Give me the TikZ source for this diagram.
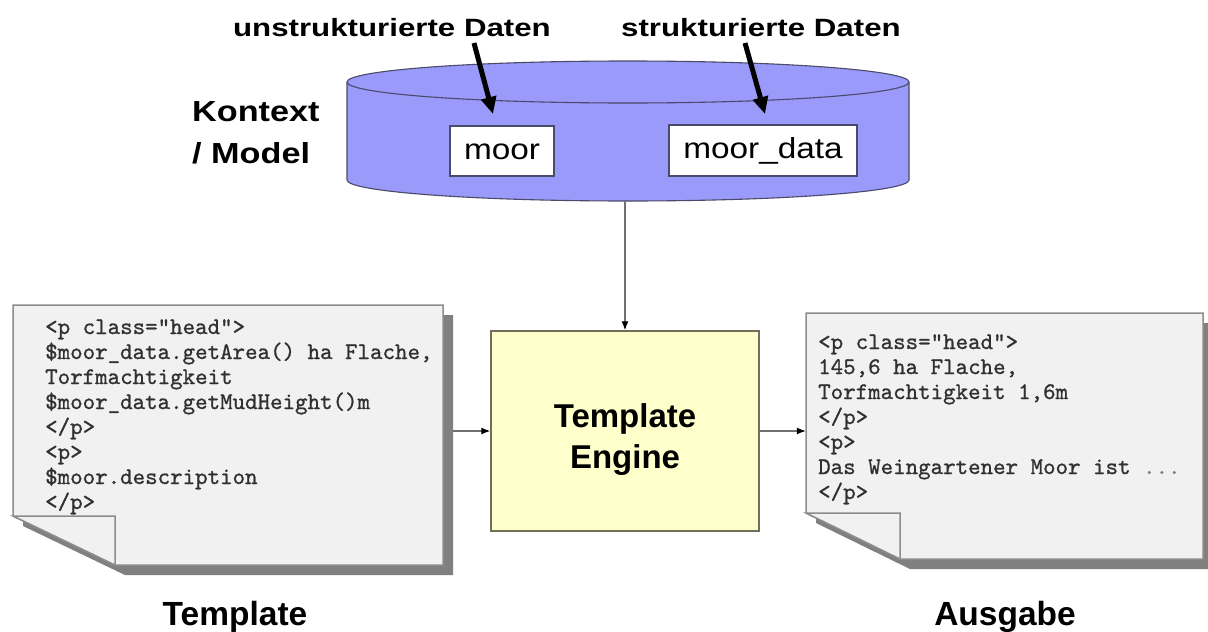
\documentclass[tikz,border=0pt]{standalone}
\usepackage{fontspec}
\setmainfont{Liberation Sans}
\newfontfamily\lblf[FakeStretch=1.25]{Liberation Sans}
\newfontfamily\boxf[FakeStretch=1.15]{Liberation Sans}
\newfontfamily\kf[FakeStretch=1.18]{Liberation Sans}
\newfontfamily\monof[FakeBold=0.9]{lmmono10-regular.otf}
\usetikzlibrary{arrows.meta}
\definecolor{cylfill}{HTML}{9A9AFA}
\definecolor{cylline}{HTML}{4A4A6A}
\definecolor{engfill}{HTML}{FFFFCC}
\definecolor{engline}{HTML}{70705A}
\definecolor{pagefill}{HTML}{F1F1F1}
\definecolor{pageline}{HTML}{8C8C8C}
\definecolor{shadowc}{HTML}{808080}
\definecolor{connline}{HTML}{707070}
\definecolor{monotext}{HTML}{303030}
\begin{document}
\begin{tikzpicture}[x=1pt,y=-1pt,
  toplbl/.style={font=\lblf\bfseries\fontsize{25}{30}\selectfont, inner sep=0, anchor=base},
  ctxlbl/.style={font=\kf\bfseries\fontsize{29}{34}\selectfont, inner sep=0, anchor=base west},
  biglbl/.style={font=\bfseries\fontsize{33.5}{40}\selectfont, inner sep=0, anchor=base},
  databox/.style={draw=cylline, fill=white, line width=1.2pt, inner sep=0,
     font=\boxf\fontsize{29}{34}\selectfont, text height=16pt, text depth=0pt},
  mono/.style={font=\monof\fontsize{23.8}{25}\selectfont, inner sep=0, anchor=base west, text=monotext},
  conn/.style={draw=connline, line width=1.3pt, -{Latex[length=9pt,width=7pt,color=black]}},
  fatarrow/.style={draw=black, line width=5pt, -{Triangle[length=17pt,width=15pt]}},
  page/.style={fill=pagefill, draw=pageline, line width=1.5pt, line join=miter},
  pageshadow/.style={fill=shadowc}
]
\useasboundingbox[fill=white] (0,0) rectangle (1208,632);

% ---------- cylinder (Kontext / Model)
\fill[cylfill] (347,82) -- (347,180)
  arc[start angle=180,end angle=360,x radius=281pt,y radius=21pt]
  -- (909,82)
  arc[start angle=0,end angle=180,x radius=281pt,y radius=21pt] -- cycle;
\draw[cylline, line width=1.1pt] (347,82) -- (347,180)
  arc[start angle=180,end angle=360,x radius=281pt,y radius=21pt] -- (909,82);
\draw[cylline, line width=1.1pt] (628,82) ellipse[x radius=281pt, y radius=21pt];
\node[inner sep=0, minimum width=562pt, minimum height=140pt] (ctx) at (628,131) {};

\node[databox, minimum width=104pt, minimum height=50pt] (moor) at (502,151) {moor};
\node[databox, minimum width=188pt, minimum height=51pt] (moordata) at (763,150.5) {moor\_data};

\node[ctxlbl] (ctx1) at (192,121) {Kontext};
\node[ctxlbl] (ctx2) at (192,163) {/ Model};

% ---------- top labels and fat arrows
\node[toplbl] (unstr) at (392,36) {unstrukturierte Daten};
\node[toplbl] (str) at (761,36) {strukturierte Daten};
\coordinate (a1s) at (474,43);
\coordinate (a1e) at (493,114);
\coordinate (a2s) at (745,43);
\coordinate (a2e) at (765,114);
\draw[fatarrow] (a1s) -- (a1e);
\draw[fatarrow] (a2s) -- (a2e);

% ---------- template engine
\node[draw=engline, fill=engfill, line width=1.4pt, minimum width=268pt, minimum height=200pt,
      inner sep=0] (eng) at (625,431) {};
\node[align=center, inner sep=0, font=\bfseries\fontsize{33}{41}\selectfont] (engtxt) at (625,440)
      {Template\\Engine};

% ---------- left page (Template)
\fill[pageshadow] (23,315) -- (453,315) -- (453,575) -- (125,575) -- (23,526) -- cycle;
\draw[page] (13,305) -- (443,305) -- (443,565) -- (115,565) -- (13,516) -- cycle;
\draw[page] (13,516) -- (115,516) -- (115,565) -- cycle;
\node[inner sep=0, minimum width=430pt, minimum height=260pt] (tpl) at (228,435) {};
\foreach \t [count=\i] in {{<p class="head">},{\$moor\_data.getArea() ha Flache,},{Torfmachtigkeit},
   {\$moor\_data.getMudHeight()m},{</p>},{<p>},{\$moor.description},{</p>}}
  \node[mono] (tl\i) at (45,{334+25*(\i-1)}) {\t};

% ---------- right page (Ausgabe)
\fill[pageshadow] (816,323) -- (1213,323) -- (1213,569) -- (910,569) -- (816,523) -- cycle;
\draw[page] (806,313) -- (1203,313) -- (1203,559) -- (900,559) -- (806,513) -- cycle;
\draw[page] (806,513) -- (900,513) -- (900,559) -- cycle;
\node[inner sep=0, minimum width=397pt, minimum height=246pt] (outd) at (1004.5,436) {};
\foreach \t [count=\i] in {{<p class="head">},{145,6 ha Flache,},{Torfmachtigkeit 1,6m},
   {</p>},{<p>},{Das Weingartener Moor ist \textcolor{gray}{.{}.{}.}},{</p>}}
  \node[mono] (tr\i) at (818,{349+25*(\i-1)}) {\t};

% ---------- captions
\node[biglbl] (captpl) at (235,625) {Template};
\node[biglbl] (capout) at (1005,625) {Ausgabe};

% ---------- connectors
\coordinate (tplout) at ([xshift=10pt]tpl.east);
\draw[conn] (ctx.south -| eng.north) -- (eng.north);
\draw[conn] (tplout |- eng.west) -- (eng.west);
\draw[conn] (eng.east) -- (eng.east -| outd.west);
\end{tikzpicture}
\end{document}
